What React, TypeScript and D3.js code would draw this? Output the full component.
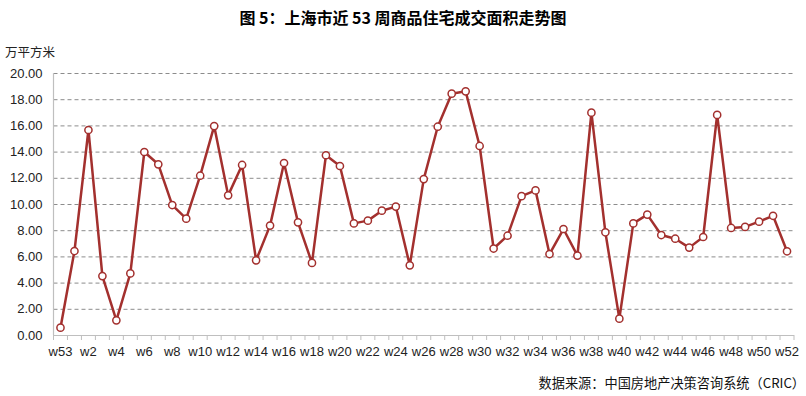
import React, { useEffect, useRef } from 'react';
import * as d3 from 'd3';

const weeks = ['w53', ...d3.range(1, 53).map(i => `w${i}`)];
const area = [
  0.56, 6.41, 15.65, 4.5, 1.12, 4.7, 13.97, 13.03, 9.92, 8.88,
  12.16, 15.95, 10.66, 12.98, 5.7, 8.35, 13.13, 8.6, 5.5, 13.72,
  12.9, 8.52, 8.73, 9.49, 9.8, 5.32, 11.9, 15.9, 18.42, 18.6,
  14.43, 6.6, 7.58, 10.6, 11.04, 6.18, 8.09, 6.06, 16.97, 7.84,
  1.25, 8.52, 9.19, 7.63, 7.35, 6.67, 7.48, 16.8, 8.17, 8.25,
  8.65, 9.1, 6.39,
];
const yTicks = [0, 2, 4, 6, 8, 10, 12, 14, 16, 18, 20];

const W = 806;
const H = 396;
const margin = { top: 73, right: 12, bottom: 61, left: 53.5 };
const font = '"Liberation Sans", Arial, sans-serif';
const cjk = '"Noto Sans CJK SC", sans-serif';
const red = '#a3302e';

export default function App() {
  const svgRef = useRef<SVGSVGElement>(null);

  useEffect(() => {
    if (!svgRef.current) return;
    const svg = d3.select(svgRef.current);
    svg.selectAll('*').remove();

    const w = W - margin.left - margin.right;
    const h = H - margin.top - margin.bottom;

    const x = d3.scaleBand().domain(weeks).range([0, w]);
    const y = d3.scaleLinear().domain([0, 20]).range([h, 0]);

    svg.append('rect').attr('width', W).attr('height', H).attr('fill', 'white');

    // title
    svg.append('text')
      .attr('x', 403).attr('y', 24)
      .attr('text-anchor', 'middle')
      .attr('font-family', cjk)
      .attr('font-size', 16).attr('font-weight', 'bold')
      .attr('fill', '#000')
      .text('图 5：上海市近 53 周商品住宅成交面积走势图');

    svg.append('text')
      .attr('x', 5).attr('y', 57)
      .attr('font-family', cjk)
      .attr('font-size', 12.5)
      .attr('fill', '#222')
      .text('万平方米');

    const g = svg.append('g').attr('transform', `translate(${margin.left},${margin.top})`);

    // gridlines
    g.selectAll('line.grid')
      .data(yTicks.filter(d => d > 0))
      .join('line')
      .attr('class', 'grid')
      .attr('x1', 0).attr('x2', w)
      .attr('y1', d => y(d) + 0.5).attr('y2', d => y(d) + 0.5)
      .attr('stroke', '#8c8c8c')
      .attr('stroke-dasharray', '4 3')
      .attr('stroke-width', 1);

    // y labels
    g.selectAll('text.ytick')
      .data(yTicks)
      .join('text')
      .attr('class', 'ytick')
      .attr('x', -11).attr('y', d => y(d))
      .attr('dy', '0.35em')
      .attr('text-anchor', 'end')
      .attr('font-family', font)
      .attr('font-size', 13)
      .attr('fill', '#222')
      .text(d => d.toFixed(2));

    // axes lines
    g.append('line')
      .attr('x1', 0).attr('x2', 0).attr('y1', 0).attr('y2', h)
      .attr('stroke', '#bfbfbf').attr('stroke-width', 1.2);
    g.append('line')
      .attr('x1', 0).attr('x2', w).attr('y1', h + 0.5).attr('y2', h + 0.5)
      .attr('stroke', '#bfbfbf').attr('stroke-width', 1.2);

    // category tick marks
    g.selectAll('line.xtick')
      .data(d3.range(weeks.length + 1))
      .join('line')
      .attr('class', 'xtick')
      .attr('x1', i => i * x.bandwidth()).attr('x2', i => i * x.bandwidth())
      .attr('y1', h).attr('y2', h + 5)
      .attr('stroke', '#bfbfbf').attr('stroke-width', 1);

    // x labels
    g.selectAll('text.xlab')
      .data(weeks.filter((_, i) => i % 2 === 0))
      .join('text')
      .attr('class', 'xlab')
      .attr('x', d => (x(d) ?? 0) + x.bandwidth() / 2)
      .attr('y', h + 21)
      .attr('text-anchor', 'middle')
      .attr('font-family', font)
      .attr('font-size', 13)
      .attr('fill', '#222')
      .text(d => d);

    const pts = weeks.map((wk, i) => ({ wk, v: area[i] }));
    const line = d3.line<typeof pts[0]>()
      .x(d => (x(d.wk) ?? 0) + x.bandwidth() / 2)
      .y(d => y(d.v));

    g.append('path')
      .datum(pts)
      .attr('fill', 'none')
      .attr('stroke', red)
      .attr('stroke-width', 2.5)
      .attr('stroke-linejoin', 'round')
      .attr('d', line);

    g.selectAll('circle')
      .data(pts)
      .join('circle')
      .attr('cx', d => (x(d.wk) ?? 0) + x.bandwidth() / 2)
      .attr('cy', d => y(d.v))
      .attr('r', 3.6)
      .attr('fill', 'white')
      .attr('stroke', red)
      .attr('stroke-width', 1.5);

    // source
    svg.append('text')
      .attr('x', 805).attr('y', 388)
      .attr('text-anchor', 'end')
      .attr('font-family', cjk)
      .attr('font-size', 13.2)
      .attr('fill', '#111')
      .text('数据来源：中国房地产决策咨询系统（CRIC）');
  }, []);

  return (
    <svg ref={svgRef} width={W} height={H}
      style={{ position: 'absolute', left: 0, top: 0, display: 'block' }} />
  );
}
